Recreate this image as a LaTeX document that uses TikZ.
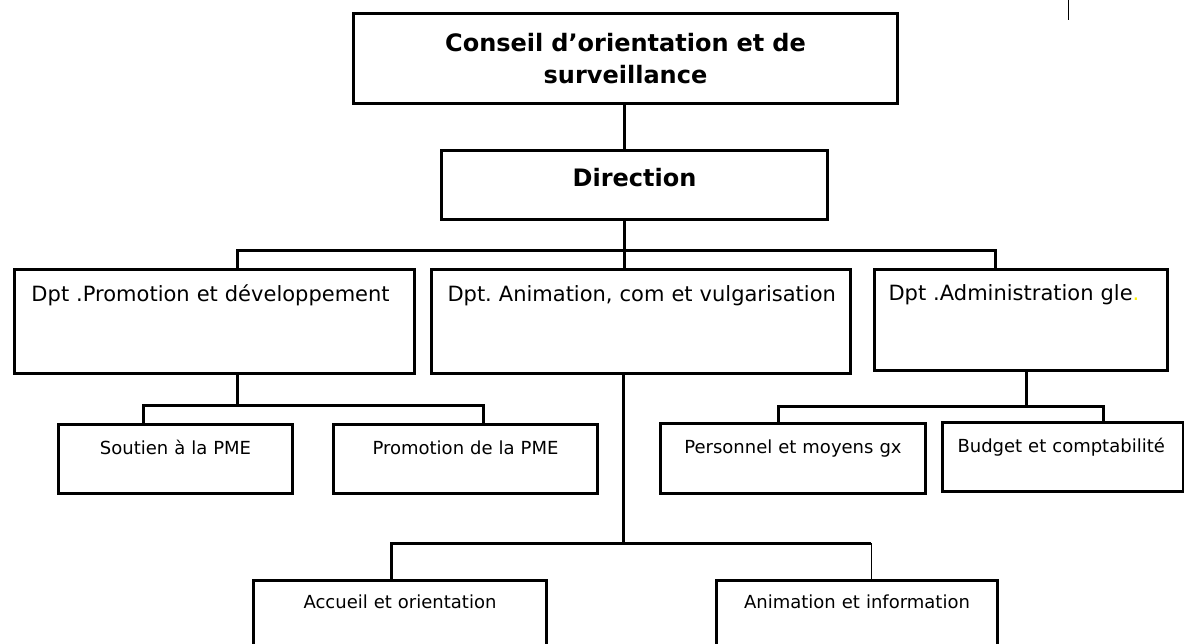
\documentclass[tikz,border=0pt]{standalone}
\usepackage{fontspec}
\setmainfont{DejaVu Sans}
\usepackage{xcolor}
\frenchspacing
\begin{document}
\begin{tikzpicture}[x=1pt,y=-1pt,
  box/.style={draw, line width=3pt, inner sep=0pt, anchor=north west},
  big/.style={font=\bfseries\fontsize{24}{32}\selectfont},
  mid/.style={font=\fontsize{21}{25}\selectfont},
  small/.style={font=\fontsize{18}{22}\selectfont},
  conn/.style={line width=3pt},
  thinconn/.style={line width=1pt}]
\clip (0,0) rectangle (1184,644);
\fill[white] (0,0) rectangle (1184,644);

% top
\node[box, big, text width=544pt, align=center, minimum height=90pt] (con) at (352,12)
  {Conseil d’orientation et de\\surveillance};
\node[box, big, text width=386pt, align=center, text height=36pt, text depth=33pt] (dir) at (440,149)
  {Direction};

% departments
\node[box, mid, text width=400pt, align=left, text height=32pt, text depth=72pt] (dpA) at (13,268)
  {\hspace*{17pt}\mbox{Dpt .Promotion et développement}};
\node[box, mid, text width=419pt, align=left, text height=32pt, text depth=72pt] (dpB) at (430,268)
  {\hspace*{16pt}\mbox{Dpt. Animation, com et vulgarisation}};
\node[box, mid, text width=293pt, align=left, text height=31pt, text depth=70.5pt] (dpC) at (873,268)
  {\hspace*{14pt}\mbox{Dpt .Administration gle{\color{yellow}.}}};

% sub units
\node[box, small, text width=234pt, align=center, text height=30pt, text depth=39pt] (sou) at (57,423)
  {Soutien à la PME};
\node[box, small, text width=264pt, align=center, text height=30pt, text depth=39pt] (pro) at (332,423)
  {Promotion de la PME};
\node[box, small, text width=265pt, align=center, text height=30pt, text depth=40pt] (per) at (659,422)
  {Personnel et moyens gx};
\node[box, small, text width=241pt, align=left, text height=30pt, text depth=39pt] (bud) at (941,421)
  {\hspace*{15pt}\mbox{Budget et comptabilité}};
\node[box, small, text width=293pt, align=center, text height=28pt, text depth=100pt] (acc) at (252,579)
  {Accueil et orientation};
\node[box, small, text width=281pt, align=center, text height=28pt, text depth=100pt] (ani) at (715,579)
  {Animation et information};

% junction coordinates
\coordinate (b1L) at (237,251);
\coordinate (b1M) at (624,251);
\coordinate (b1R) at (995,251);
\coordinate (b2L) at (143,405);
\coordinate (b2M) at (237,405);
\coordinate (b2R) at (483,405);
\coordinate (b3L) at (391,543);
\coordinate (b3M) at (623,543);
\coordinate (b3R) at (871,543);
\coordinate (b4L) at (778,406);
\coordinate (b4M) at (1026,406);
\coordinate (b4R) at (1103,406);
\coordinate (m1) at (1068,0);
\coordinate (m2) at (1068,20);

% connectors
\draw[conn] (b1M |- con.south) -- (b1M |- dir.north);
\draw[conn] (b1M |- dir.south) -- (b1M |- dpB.north);
\draw[conn] (b1L |- dpA.north) -- (b1L) -- (b1R) -- (b1R |- dpC.north);

\draw[conn] (b2M |- dpA.south) -- (b2M);
\draw[conn] (b2L |- sou.north) -- (b2L) -- (b2R) -- (b2R |- pro.north);

\draw[conn] (b3M |- dpB.south) -- (b3M);
\draw[conn] (b3L |- acc.north) -- (b3L) -- (b3R);
\draw[thinconn] (b3R) -- (b3R |- ani.north);

\draw[conn] (b4M |- dpC.south) -- (b4M);
\draw[conn] (b4L |- per.north) -- (b4L) -- (b4R) -- (b4R |- bud.north);

\draw[thinconn] (m1) -- (m2);
\end{tikzpicture}
\end{document}
